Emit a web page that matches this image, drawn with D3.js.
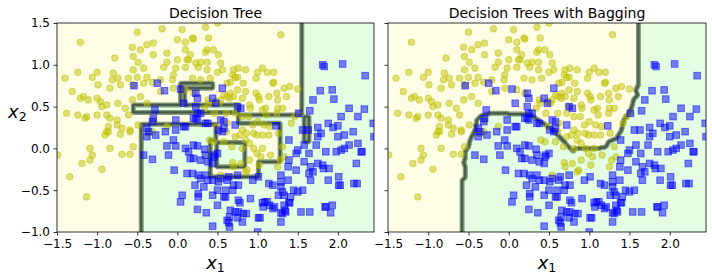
<!DOCTYPE html>
<html>
<head>
<meta charset="utf-8">
<script src="https://cdn.jsdelivr.net/npm/d3@7"></script>
<style>
  body { margin: 0; background: #fff; }
  svg { display: block; font-family: "DejaVu Sans", sans-serif; }
</style>
</head>
<body>
<svg id="chart" width="712" height="280"></svg>
<script>
// axis settings
const xDomain = [-1.5, 2.45];
const yDomain = [-1.0, 1.5];
const xTicks = [-1.5, -1.0, -0.5, 0.0, 0.5, 1.0, 1.5, 2.0];
const yTicks = [-1.0, -0.5, 0.0, 0.5, 1.0, 1.5];
const titles = ["Decision Tree", "Decision Trees with Bagging"];

// class 0 (yellow circles)
const class0 = [
  [-1.21,1.27],[-0.5,1.39],[-0.19,1.43],[0.06,1.42],[0.5,1.5],[0.0,1.3],[0.19,1.32],[-0.3,1.26],[-0.38,1.24],[-0.56,1.21],
  [-0.46,1.18],[0.1,1.18],[0.37,1.18],[0.16,1.12],[-0.13,1.14],[-0.3,1.12],[-0.55,1.1],[-0.78,1.08],[-0.49,1.03],[-0.13,1.03],
  [0.0,1.06],[0.14,1.06],[0.29,1.03],[0.51,1.12],[0.45,1.18],[-0.42,0.96],[-0.55,0.94],[-0.17,0.97],[-0.02,0.96],[0.1,0.97],
  [0.37,0.94],[0.5,0.91],[0.7,0.94],[-1.24,0.91],[-1.0,0.91],[-0.8,0.9],[-1.4,0.84],[-1.06,0.85],[-0.81,0.82],[-0.74,0.84],
  [-0.61,0.84],[-0.5,0.85],[-0.38,0.85],[-0.31,0.79],[-0.21,0.82],[-0.06,0.82],[-0.05,0.88],[0.19,0.84],[0.29,0.82],[0.41,0.84],
  [0.66,0.79],[0.75,0.85],[-0.84,0.72],[-0.71,0.76],[-0.55,0.76],[-0.42,0.78],[-0.99,0.76],[-1.31,0.68],[-1.21,0.6],[-1.17,0.62],
  [-1.11,0.58],[-1.0,0.6],[-0.96,0.56],[-0.94,0.5],[-0.88,0.52],[-0.74,0.54],[-0.65,0.48],[-0.56,0.58],[-0.46,0.62],[-0.38,0.54],
  [-0.21,0.68],[-0.05,0.72],[0.1,0.7],[0.2,0.66],[0.38,0.58],[0.54,0.58],[0.7,0.62],[0.75,0.7],[0.66,0.66],[-1.38,0.42],
  [-1.24,0.4],[-1.13,0.38],[-1.15,0.36],[-1.0,0.4],[-0.88,0.4],[-0.75,0.34],[-0.84,0.36],[-0.61,0.4],[-0.49,0.28],[-0.86,0.26],
  [-0.75,0.28],[-0.69,0.24],[-0.59,0.22],[-0.88,0.2],[-0.3,0.34],[-0.13,0.26],
  [-1.49,-0.08],[-1.09,0.0],[-1.06,-0.08],[-1.09,-0.14],[-1.19,-0.18],[-0.94,-0.25],[-1.34,-0.34],[-1.13,-0.58],[-0.84,0.0],[-0.69,-0.07],
  [-0.59,-0.07],[-0.55,0.02],[-0.71,0.17],[-0.59,0.2],[-0.9,0.16],[-0.86,0.2],[-0.36,0.18],[-0.31,0.2],
  [0.35,1.45],[0.1,1.27],[0.2,1.31],[0.39,1.32],[0.35,1.15],[1.29,1.36],[0.12,1.06],[0.23,1.02],[0.37,1.03],[0.54,1.02],
  [0.26,0.97],[0.56,0.94],[0.76,0.96],[0.85,0.94],[1.0,0.91],[1.06,0.96],[1.12,0.91],[1.2,0.91],[0.69,0.88],[0.72,0.85],
  [0.98,0.84],[0.62,0.78],[0.82,0.78],[1.2,0.79],[1.33,0.72],[1.5,0.71],[0.85,0.68],[0.98,0.66],[1.01,0.62],[1.14,0.62],
  [0.62,0.62],[0.58,0.64],[1.25,0.58],[0.91,0.48],[1.1,0.48],[1.25,0.48],[1.31,0.48],[0.39,0.54],[0.48,0.56],[0.72,0.42],
  [0.89,0.38],[0.94,0.28],[1.08,0.28],[0.62,0.3],[0.81,0.22],[0.95,0.18],[1.06,0.16],
  [0.4,0.1],[0.78,0.16],[0.86,0.18],[1.0,0.32],[1.11,0.4],[1.24,0.42],[1.46,0.38],[1.15,0.26],[1.31,0.02],[1.28,-0.14],
  [0.99,-0.06],[0.9,0.06],[0.68,0.02],[0.61,0.2],[0.49,0.26],[0.69,-0.17],[0.9,-0.14],[1.02,-0.2],[0.81,0.38],[0.61,0.42],
  [0.74,0.5],[0.9,0.52],[1.02,0.58],[1.06,0.46],[0.81,0.6],[0.65,0.6],[0.52,0.54],[0.34,0.48],[0.46,0.42],[1.24,0.66],
  [1.36,0.62],[1.19,0.78],[1.4,0.74],[0.99,0.16],[1.52,0.42],[1.42,0.3],
  [0.72,0.14],[0.85,0.1],[1.14,0.16],[1.26,0.18],[0.95,0.0],[1.06,0.0],[0.81,0.0],[1.04,-0.1],[0.79,-0.18],[0.7,-0.22],
  [0.45,0.08],[0.58,0.08],[1.33,-0.1],[0.85,-0.28],[1.25,-0.22],[0.54,-0.32],[0.87,-0.26],[1.16,-0.08]
];

// class 1 (blue squares)
const class1 = [
  [-0.42,-0.08],[-0.31,-0.13],[-0.38,0.14],[-0.27,0.16],[-0.15,0.2],[-0.02,0.22],[-0.05,0.1],[-0.13,0.03],[-0.02,0.03],[-0.11,-0.08],
  [0.1,0.0],[0.2,0.04],[0.25,0.03],[0.14,-0.04],[0.34,-0.01],[0.2,-0.12],[0.29,-0.14],[0.38,-0.16],[0.45,-0.1],[0.5,-0.06],
  [0.44,-0.18],[-0.04,-0.26],[0.12,-0.3],[0.19,-0.3],[0.26,-0.32],[0.29,-0.36],[0.35,-0.32],[0.44,-0.38],[0.51,-0.4],[0.62,-0.38],
  [0.7,-0.44],[0.22,-0.44],[0.33,-0.46],[0.06,-0.56],[0.04,-0.64],[0.26,-0.54],[0.26,-0.58],[0.44,-0.56],[0.6,-0.58],[0.5,-0.68],
  [0.25,-0.73],[0.36,-0.77],[0.66,-0.74],[0.76,-0.76],[0.64,-0.89],[0.65,-0.94],[0.44,-0.93],[0.75,-0.83],[0.78,-0.65],
  [0.16,-0.12],[0.35,-0.08],[0.46,-0.08],[0.38,-0.38],[0.54,-0.36],[0.64,-0.34],[0.75,-0.32],[0.76,-0.44],[0.6,-0.5],[0.69,-0.5],
  [0.5,-0.5],[0.58,-0.58],[0.91,-0.6],[0.76,-0.62],[0.72,-0.76],[0.82,-0.78],[0.81,-0.88],[0.62,-0.86],[1.01,-0.83],[1.06,-0.65],
  [1.12,-0.64],[1.07,-0.7],[1.19,-0.72],[1.29,-0.77],[1.35,-0.76],[1.33,-0.68],[1.39,-0.65],[1.54,-0.76],[1.29,-0.88],[1.0,-1.0],
  [0.94,-0.38],[1.01,-0.34],[1.14,-0.42],[1.19,-0.44],[1.29,-0.32],[1.29,-0.4],[1.29,-0.46],[1.31,-0.52],[1.33,-0.56],[1.26,-0.56],
  [1.41,-0.58],[1.45,-0.5],[1.5,-0.52],[1.56,-0.5],[1.38,-0.38],[1.38,-0.22],[1.48,-0.26],[1.48,-0.06],[1.39,-0.14],[1.58,-0.16],
  [1.64,-0.3],[1.66,-0.38],[1.69,-0.28],[1.66,-0.22],[1.75,-0.18],[1.81,-0.2],[1.82,-0.24],[1.89,-0.24],[2.01,-0.34],[2.01,-0.44],
  [2.2,-0.42],[1.85,-0.7],[1.91,-0.77],[1.88,-0.38],[1.85,-0.04],[1.98,-0.04],[2.04,-0.02],[2.08,0.0],[2.14,0.04],[2.29,-0.04],
  [2.23,-0.18],[2.25,0.06],[2.45,0.14],[2.08,0.16],[2.0,0.14],[1.75,0.14],[1.79,0.18],[1.5,-0.02],[1.58,0.04],[1.73,0.04],
  [1.64,-0.06],
  [1.81,1.0],[1.83,0.98],[2.06,1.01],[2.34,0.87],[1.78,0.69],[1.93,0.7],[1.95,0.59],[1.69,0.58],[1.65,0.45],[1.51,0.42],
  [2.14,0.48],[2.25,0.38],[2.33,0.47],[2.04,0.38],[2.44,0.3],[1.88,0.3],[2.0,0.27],[1.75,0.25],[1.94,0.25],[2.19,0.2],
  [1.56,0.22],[1.63,0.22],[0.56,0.72],[0.23,0.66],[0.44,0.6],[0.48,0.54],[0.79,0.48],[0.23,0.5],[0.08,0.54],[0.25,0.42],
  [0.23,0.36],[0.35,0.3],[0.1,0.26],[0.58,0.32],[0.51,0.22],[0.56,0.2],[0.72,0.28],[1.23,0.27],[1.39,0.1],
  [-0.54,0.75],[-0.25,0.78],[-0.16,0.69],[0.04,0.71],[0.25,0.6],[-0.28,0.46],[-0.3,0.36],[-0.31,0.32],[-0.38,0.24],[-0.36,0.2],
  [-0.02,0.34],[0.08,0.26],[0.2,0.36],[0.25,0.34],[0.29,0.42],[0.38,0.3],[0.54,0.34],[0.58,0.24],[0.75,0.5],
  [1.93,-0.68],[1.84,-0.7],[2.24,-0.42],[2.03,-0.44],[2.3,-0.04],[0.65,-0.82],[1.03,-0.83],[0.86,-0.78],[1.09,-0.64],[1.15,-0.68],
  [1.21,-0.7],[1.31,-0.78],[1.34,-0.74],[1.4,-0.65],[1.65,-0.76]
];

// single tree: leaf boxes [x0, x1, y0, y1, class], later ones override earlier ones
const treeRegions = [
  [1.55, 9, 0.40, 9, 1],
  [-0.45, 9, -9, 0.29, 1],
  [1.28, 9, -9, 0.40, 1],
  [-0.55, 0.76, 0.43, 0.52, 1],
  [0.76, 1.28, 0.30, 0.40, 1],
  [0.04, 0.09, 0.52, 0.78, 1],
  [0.04, 0.44, 0.72, 0.78, 1],
  [0.48, 1.28, 0.08, 0.30, 0],
  [0.41, 1.01, -0.34, 0.10, 0],
  [1.01, 1.28, -0.16, 0.10, 0],
  [0.49, 0.84, -0.22, 0.07, 1],
  [1.58, 1.64, 0.08, 0.38, 0]
];

// bagging ensemble: outline of the class-1 region
const baggingBoundary = [
  [1.61,3],[1.61,0.76],[1.58,0.70],[1.60,0.64],[1.55,0.58],[1.53,0.50],[1.49,0.42],[1.43,0.34],[1.40,0.22],[1.34,0.12],
  [1.24,0.08],[1.21,0.02],[1.11,0.0],[0.84,0.0],[0.80,-0.03],[0.74,0.03],[0.68,0.09],[0.60,0.17],[0.54,0.23],[0.46,0.28],
  [0.38,0.33],[0.29,0.39],[0.21,0.41],[-0.22,0.42],[-0.34,0.39],[-0.40,0.34],[-0.41,0.24],[-0.45,0.16],[-0.48,0.10],[-0.50,0.02],
  [-0.54,-0.04],[-0.54,-0.11],[-0.56,-0.17],[-0.54,-0.23],[-0.54,-0.34],[-0.58,-0.38],[-0.58,-3],[4,-3],[4,3]
];

const panels = [
  { x: 57, y: 23, w: 317, h: 209 },
  { x: 388, y: 23, w: 318, h: 209 }
];

const svg = d3.select("#chart");

const classifiers = [
  (x, y) => {
    let c = 0;
    treeRegions.forEach(r => {
      if (x >= r[0] && x < r[1] && y >= r[2] && y < r[3]) c = r[4];
    });
    return c;
  },
  (x, y) => d3.polygonContains(baggingBoundary, [x, y]) ? 1 : 0
];

// sample the classifier on a grid a bit larger than the axes
const step = 0.01;
const gx0 = -1.6, gx1 = 2.6, gy0 = -1.1, gy1 = 1.6;
const nx = Math.round((gx1 - gx0) / step);
const ny = Math.round((gy1 - gy0) / step);

function drawPanel(idx) {
  const p = panels[idx];
  const xs = d3.scaleLinear().domain(xDomain).range([p.x, p.x + p.w]);
  const ys = d3.scaleLinear().domain(yDomain).range([p.y + p.h, p.y]);
  const g = svg.append("g");

  g.append("clipPath").attr("id", "clip" + idx)
    .append("rect").attr("x", p.x).attr("y", p.y).attr("width", p.w).attr("height", p.h);

  const plot = g.append("g").attr("clip-path", `url(#clip${idx})`);

  plot.append("rect")
    .attr("x", p.x).attr("y", p.y).attr("width", p.w).attr("height", p.h)
    .attr("fill", "#fefee7");

  const values = new Array(nx * ny);
  for (let j = 0; j < ny; j++) {
    for (let i = 0; i < nx; i++) {
      values[j * nx + i] = classifiers[idx](gx0 + (i + 0.5) * step, gy1 - (j + 0.5) * step);
    }
  }
  const contours = d3.contours().size([nx, ny]).thresholds([0.5])(values);
  const proj = d3.geoTransform({
    point: function (cx, cy) {
      this.stream.point(xs(gx0 + cx * step), ys(gy1 - cy * step));
    }
  });
  const path = d3.geoPath(proj);

  plot.append("path").attr("d", path(contours[0]))
    .attr("fill", "#e3fee3");
  plot.append("path").attr("d", path(contours[0]))
    .attr("fill", "none").attr("stroke", "#6f8a62").attr("stroke-width", 5)
    .attr("stroke-opacity", 0.85).attr("stroke-linejoin", "round");
  plot.append("path").attr("d", path(contours[0]))
    .attr("fill", "none").attr("stroke", "#3e4d46").attr("stroke-width", 2.2)
    .attr("stroke-opacity", 0.85).attr("stroke-linejoin", "round");

  plot.selectAll("circle.c0").data(class0).join("circle")
    .attr("class", "c0")
    .attr("cx", d => xs(d[0])).attr("cy", d => ys(d[1])).attr("r", 3.3)
    .attr("fill", "#bfbf00").attr("fill-opacity", 0.5)
    .attr("stroke", "#bfbf00").attr("stroke-opacity", 0.5).attr("stroke-width", 1);

  plot.selectAll("rect.c1").data(class1).join("rect")
    .attr("class", "c1")
    .attr("x", d => xs(d[0]) - 3.3).attr("y", d => ys(d[1]) - 3.3)
    .attr("width", 6.6).attr("height", 6.6)
    .attr("fill", "#0000ff").attr("fill-opacity", 0.5)
    .attr("stroke", "#0000ff").attr("stroke-opacity", 0.5).attr("stroke-width", 1);

  // axes
  const fmt = d3.format(".1f");
  const xAxis = g.append("g").attr("transform", `translate(0,${p.y + p.h})`)
    .call(d3.axisBottom(xs).tickValues(xTicks).tickSize(3.5).tickPadding(3.5).tickSizeOuter(0).tickFormat(fmt));
  const yAxis = g.append("g").attr("transform", `translate(${p.x},0)`)
    .call(d3.axisLeft(ys).tickValues(yTicks).tickSize(3.5).tickPadding(3.5).tickSizeOuter(0)
      .tickFormat(idx === 0 ? fmt : () => ""));
  [xAxis, yAxis].forEach(a => {
    a.select(".domain").remove();
    a.attr("font-family", "DejaVu Sans, sans-serif").attr("font-size", 12);
    a.selectAll("line").attr("stroke", "#000").attr("stroke-width", 0.8);
    a.selectAll("text").attr("fill", "#000");
  });

  g.append("rect")
    .attr("x", p.x).attr("y", p.y).attr("width", p.w).attr("height", p.h)
    .attr("fill", "none").attr("stroke", "#000").attr("stroke-width", 0.8);

  g.append("text")
    .attr("x", p.x + p.w / 2).attr("y", 18)
    .attr("text-anchor", "middle").attr("font-size", 14)
    .text(titles[idx]);

  const xl = g.append("text")
    .attr("x", p.x + p.w / 2).attr("y", 269)
    .attr("text-anchor", "middle").attr("font-size", 18);
  xl.append("tspan").attr("font-style", "italic").text("x");
  xl.append("tspan").attr("font-size", 12.5).attr("dy", 3).text("1");

  if (idx === 0) {
    const yl = g.append("text")
      .attr("x", 8).attr("y", 118).attr("font-size", 18);
    yl.append("tspan").attr("font-style", "italic").text("x");
    yl.append("tspan").attr("font-size", 12.5).attr("dy", 3).text("2");
  }
}

drawPanel(0);
drawPanel(1);
</script>
</body>
</html>
